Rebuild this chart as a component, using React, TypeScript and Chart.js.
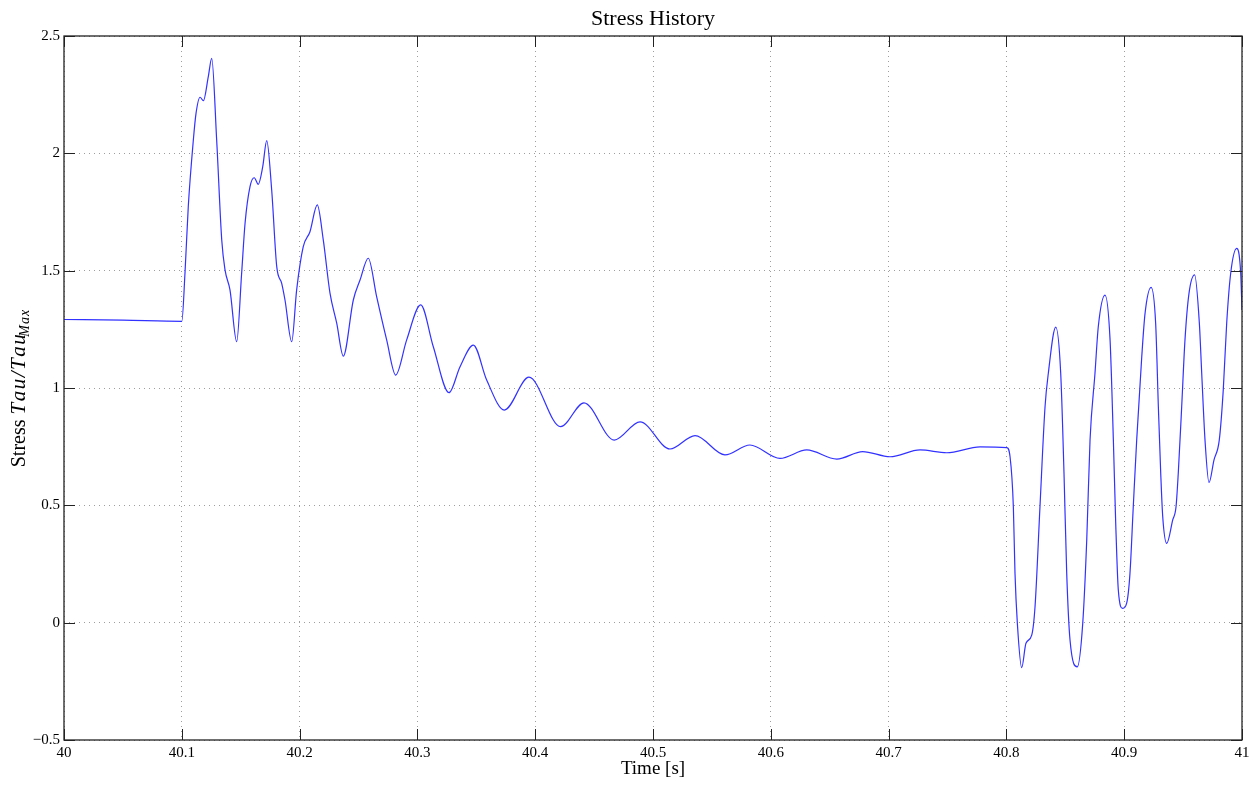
import React, { useEffect, useRef } from "react";
import { Chart, registerables } from "chart.js";

Chart.register(...registerables);

const chartTitle = "Stress History";
const xAxisTitle = "Time [s]";

const xTickValues = [40, 40.1, 40.2, 40.3, 40.4, 40.5, 40.6, 40.7, 40.8, 40.9, 41];
const yTickValues = [-0.5, 0, 0.5, 1, 1.5, 2, 2.5];
const yTickLabels = ["\u22120.5", "0", "0.5", "1", "1.5", "2", "2.5"];

const timeValues = [
  40.0, 40.05, 40.1, 40.1027, 40.1055, 40.1098, 40.1121, 40.1155, 40.1183, 40.1225,
  40.1254, 40.1296, 40.1339, 40.1367, 40.1409, 40.1466, 40.1508, 40.1537, 40.1579, 40.1615,
  40.1649, 40.1687, 40.1721, 40.1763, 40.1806, 40.1848, 40.1876, 40.1933, 40.1975, 40.2031,
  40.2088, 40.215, 40.2201, 40.2258, 40.2315, 40.2371, 40.2456, 40.2513, 40.2583, 40.2654,
  40.2739, 40.2816, 40.2909, 40.3028, 40.3135, 40.3268, 40.3362, 40.3475, 40.3588, 40.3738,
  40.3947, 40.4216, 40.4414, 40.4671, 40.489, 40.5144, 40.5357, 40.5611, 40.5823, 40.6078,
  40.6305, 40.656, 40.678, 40.7012, 40.7267, 40.7493, 40.7776, 40.8003, 40.8031, 40.8059,
  40.8073, 40.8093, 40.813, 40.8166, 40.8215, 40.8243, 40.8285, 40.8328, 40.8356, 40.8419,
  40.8461, 40.8489, 40.8512, 40.854, 40.8602, 40.8648, 40.8682, 40.871, 40.8752, 40.878,
  40.8837, 40.888, 40.8908, 40.8928, 40.895, 40.8987, 40.9021, 40.9049, 40.9077, 40.9106,
  40.9149, 40.9177, 40.9228, 40.9267, 40.929, 40.931, 40.9327, 40.9361, 40.9412, 40.944,
  40.9459, 40.9488, 40.9516, 40.955, 40.9598, 40.9638, 40.9658, 40.9686, 40.972, 40.9762,
  40.9807, 40.9841, 40.987, 40.9904, 40.9955, 40.9989, 41.0,
];

const stressValues = [
  1.292, 1.289, 1.284, 1.489, 1.773, 2.057, 2.171, 2.239, 2.224, 2.327,
  2.405, 2.057, 1.631, 1.503, 1.418, 1.197, 1.489, 1.702, 1.858, 1.896,
  1.868, 1.943, 2.054, 1.844, 1.517, 1.446, 1.375, 1.197, 1.418, 1.602,
  1.666, 1.78, 1.631, 1.404, 1.276, 1.136, 1.375, 1.46, 1.553, 1.389,
  1.205, 1.055, 1.205, 1.354, 1.176, 0.98, 1.091, 1.183, 1.034, 0.906,
  1.046, 0.835, 0.937, 0.778, 0.856, 0.74, 0.797, 0.715, 0.757, 0.7,
  0.736, 0.697, 0.729, 0.707, 0.736, 0.724, 0.749, 0.746, 0.707, 0.494,
  0.21, -0.003, -0.192, -0.088, -0.053, 0.068, 0.494, 0.92, 1.063, 1.259,
  1.063, 0.637, 0.21, -0.074, -0.188, -0.003, 0.352, 0.778, 1.063, 1.261,
  1.396, 1.205, 0.778, 0.423, 0.139, 0.061, 0.083, 0.21, 0.494, 0.778,
  1.133, 1.318, 1.429, 1.276, 0.92, 0.637, 0.452, 0.338, 0.438, 0.494,
  0.637, 0.92, 1.205, 1.403, 1.482, 1.276, 1.063, 0.778, 0.597, 0.693,
  0.778, 0.992, 1.276, 1.489, 1.595, 1.489, 1.332,
];

const SERIF = "'Liberation Serif', 'Times New Roman', serif";

const matlabFrame = {
  id: "matlabFrame",
  afterDraw(chart: any) {
    const { ctx, chartArea } = chart;
    const { left, right, top, bottom } = chartArea;
    const xs = chart.scales.x;
    const ys = chart.scales.y;
    ctx.save();
    // box
    ctx.strokeStyle = "#222";
    ctx.lineWidth = 1.3;
    ctx.setLineDash([]);
    ctx.strokeRect(left, top, right - left, bottom - top);
    // inward ticks
    const tl = 11;
    ctx.lineWidth = 1;
    ctx.beginPath();
    xTickValues.forEach((v) => {
      const px = Math.round(xs.getPixelForValue(v)) + 0.5;
      ctx.moveTo(px, bottom);
      ctx.lineTo(px, bottom - tl);
      ctx.moveTo(px, top);
      ctx.lineTo(px, top + tl);
    });
    yTickValues.forEach((v) => {
      const py = Math.round(ys.getPixelForValue(v)) + 0.5;
      ctx.moveTo(left, py);
      ctx.lineTo(left + tl, py);
      ctx.moveTo(right, py);
      ctx.lineTo(right - tl, py);
    });
    ctx.stroke();

    // title
    ctx.fillStyle = "#000";
    ctx.textAlign = "center";
    ctx.textBaseline = "alphabetic";
    ctx.font = `22px ${SERIF}`;
    const cx = (left + right) / 2;
    ctx.fillText(chartTitle, cx, 25);
    // x label
    ctx.font = `19px ${SERIF}`;
    ctx.fillText(xAxisTitle, cx, 774);

    // y label with math parts
    const cy = (top + bottom) / 2;
    ctx.translate(25, cy);
    ctx.rotate(-Math.PI / 2);
    ctx.textAlign = "left";
    const parts = [
      { t: "Stress ", f: `20px ${SERIF}`, dy: 0, ls: 0 },
      { t: "Tau/Tau", f: `italic 21px ${SERIF}`, dy: 0, ls: 1.5 },
      { t: "Max", f: `italic 14px ${SERIF}`, dy: 4, ls: 1 },
    ];
    const widthOf = (p: any) => {
      ctx.font = p.f;
      return ctx.measureText(p.t).width + p.ls * p.t.length;
    };
    let total = 0;
    parts.forEach((p) => {
      total += widthOf(p);
    });
    let x0 = -total / 2;
    parts.forEach((p) => {
      ctx.font = p.f;
      let xx = x0;
      for (const ch of p.t) {
        ctx.fillText(ch, xx, p.dy);
        xx += ctx.measureText(ch).width + p.ls;
      }
      x0 += widthOf(p);
    });
    ctx.restore();
  },
};

export default function App() {
  const ref = useRef<HTMLCanvasElement | null>(null);

  useEffect(() => {
    if (!ref.current) return;
    const points = timeValues.map((t, i) => ({ x: t, y: stressValues[i] }));
    const chart = new Chart(ref.current, {
      type: "line",
      data: {
        datasets: [
          {
            data: points,
            borderColor: "rgb(50,50,255)",
            borderWidth: 1.2,
            pointRadius: 0,
            fill: false,
            cubicInterpolationMode: "monotone",
          },
        ],
      },
      options: {
        animation: false,
        responsive: false,
        devicePixelRatio: 1,
        layout: { padding: { left: 0, top: 36, right: 14, bottom: 0 } },
        plugins: { legend: { display: false }, title: { display: false }, tooltip: { enabled: false } },
        scales: {
          x: {
            type: "linear",
            min: 40,
            max: 41,
            afterFit: (s: any) => {
              s.height = 45;
            },
            afterBuildTicks: (s: any) => {
              s.ticks = xTickValues.map((v) => ({ value: v }));
            },
            ticks: {
              padding: 4,
              color: "#000",
              font: { family: SERIF, size: 15 },
              maxRotation: 0,
              autoSkip: false,
              callback: (v: any) => String(Number(Number(v).toFixed(1))),
            },
            grid: { drawTicks: false, color: "rgba(0,0,0,0.38)", lineWidth: 1 },
            border: { display: false, dash: [1, 4] },
          },
          y: {
            type: "linear",
            min: -0.5,
            max: 2.5,
            afterFit: (s: any) => {
              s.width = 64;
            },
            afterBuildTicks: (s: any) => {
              s.ticks = yTickValues.map((v) => ({ value: v }));
            },
            ticks: {
              padding: 4,
              color: "#000",
              font: { family: SERIF, size: 15 },
              autoSkip: false,
              callback: (v: any) => {
                const i = yTickValues.indexOf(Number(v));
                return i >= 0 ? yTickLabels[i] : String(v);
              },
            },
            grid: { drawTicks: false, color: "rgba(0,0,0,0.38)", lineWidth: 1 },
            border: { display: false, dash: [1, 4] },
          },
        },
      },
      plugins: [matlabFrame],
    });
    return () => chart.destroy();
  }, []);

  return (
    <div style={{ position: "fixed", left: 0, top: 0, width: 1256, height: 785, background: "#fff" }}>
      <canvas ref={ref} width={1256} height={785} style={{ display: "block" }} />
    </div>
  );
}
